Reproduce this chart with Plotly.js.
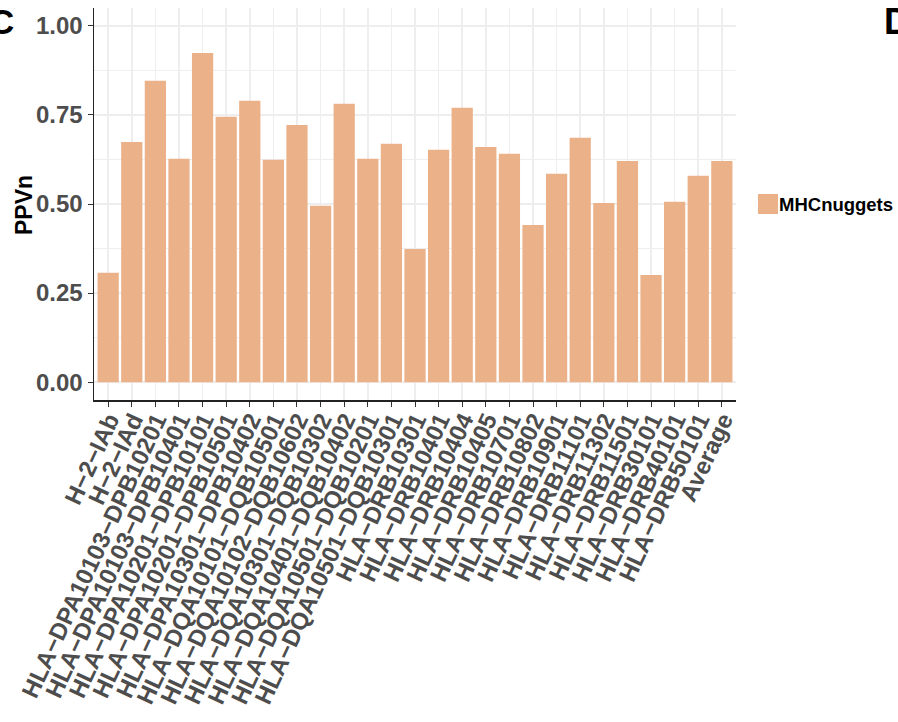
<!DOCTYPE html>
<html>
<head>
<meta charset="utf-8">
<script src="https://cdn.plot.ly/plotly-3.0.1.min.js"></script>
<style>
  html, body { margin: 0; padding: 0; background: #ffffff; }
  #chart { width: 898px; height: 722px; }
</style>
</head>
<body>
<div id="chart"></div>
<script>
// Alleles (x categories) and PPVn values for MHCnuggets
const alleles = [
  "H\u22122\u2212IAb", "H\u22122\u2212IAd",
  "HLA\u2212DPA10103\u2212DPB10201", "HLA\u2212DPA10103\u2212DPB10401",
  "HLA\u2212DPA10201\u2212DPB10101", "HLA\u2212DPA10201\u2212DPB10501",
  "HLA\u2212DPA10301\u2212DPB10402", "HLA\u2212DQA10101\u2212DQB10501",
  "HLA\u2212DQA10102\u2212DQB10602", "HLA\u2212DQA10301\u2212DQB10302",
  "HLA\u2212DQA10401\u2212DQB10402", "HLA\u2212DQA10501\u2212DQB10201",
  "HLA\u2212DQA10501\u2212DQB10301", "HLA\u2212DRB10301",
  "HLA\u2212DRB10401", "HLA\u2212DRB10404", "HLA\u2212DRB10405",
  "HLA\u2212DRB10701", "HLA\u2212DRB10802", "HLA\u2212DRB10901",
  "HLA\u2212DRB11101", "HLA\u2212DRB11302", "HLA\u2212DRB11501",
  "HLA\u2212DRB30101", "HLA\u2212DRB40101", "HLA\u2212DRB50101",
  "Average"
];
const ppvn = [
  0.307, 0.674, 0.846, 0.627, 0.924, 0.745, 0.790, 0.624, 0.722,
  0.495, 0.781, 0.627, 0.669, 0.374, 0.652, 0.770, 0.660, 0.641,
  0.441, 0.585, 0.686, 0.503, 0.621, 0.301, 0.506, 0.579, 0.621
];
const seriesName = "MHCnuggets";
const yLabel = "PPVn";
const yTicks = [0, 0.25, 0.5, 0.75, 1.0];
const yTickText = ["0.00", "0.25", "0.50", "0.75", "1.00"];

const barColor = "#EBB28A";
const gridColor = "#EEEEEE";
const tickFont = { family: "Liberation Sans, Arial, sans-serif", size: 24, color: "#4D4D4D", weight: "bold" };

const n = alleles.length;
const xIdx = alleles.map((_, i) => i + 1);

// plot-area geometry in pixels, used to place the key and panel letters
const L = 94, T = 8, W = 642, H = 392;
const px = x => (x - L) / W;
const py = y => (T + H - y) / H;

// minor horizontal grid between the major ticks
const minorShapes = [0.125, 0.375, 0.625, 0.875].map(v => ({
  type: "line", xref: "paper", yref: "y", x0: 0, x1: 1, y0: v, y1: v,
  line: { color: gridColor, width: 1 }, layer: "below"
}));

const trace = {
  type: "bar",
  x: xIdx,
  y: ppvn,
  name: seriesName,
  marker: { color: barColor, line: { width: 0 } },
  width: 0.9,
  showlegend: false,
  hoverinfo: "y"
};

const layout = {
  width: 898, height: 722,
  margin: { l: L, r: 898 - L - W, t: T, b: 722 - T - H, pad: 0 },
  paper_bgcolor: "#ffffff",
  plot_bgcolor: "#ffffff",
  font: { family: "Liberation Sans, Arial, sans-serif" },
  xaxis: {
    range: [0.4, n + 0.6],
    tickmode: "array",
    tickvals: xIdx,
    ticktext: alleles,
    tickangle: -65,
    tickfont: tickFont,
    ticklabeloverflow: "allow",
    ticklabelshift: 1,
    ticklabelstandoff: -10,
    ticks: "outside", ticklen: 5, tickwidth: 1, tickcolor: "#333333",
    showline: true, linecolor: "#222222", linewidth: 1.5,
    showgrid: true, gridcolor: gridColor, gridwidth: 1.5,
    zeroline: false, fixedrange: true
  },
  yaxis: {
    range: [-0.05, 1.05],
    tickmode: "array",
    tickvals: yTicks,
    ticktext: yTickText,
    tickfont: tickFont,
    ticks: "outside", ticklen: 5, tickwidth: 1, tickcolor: "#333333",
    showline: true, linecolor: "#222222", linewidth: 1.5,
    showgrid: true, gridcolor: gridColor, gridwidth: 1.5,
    zeroline: false, fixedrange: true
  },
  shapes: minorShapes.concat([
    // legend key
    { type: "rect", xref: "paper", yref: "paper",
      x0: px(758), x1: px(778), y0: py(214), y1: py(194),
      fillcolor: barColor, line: { width: 0 } }
  ]),
  annotations: [
    { text: yLabel, xref: "paper", yref: "paper", textangle: -90,
      x: px(24), y: py(205), xanchor: "center", yanchor: "middle",
      showarrow: false, font: { size: 23, color: "#000000", weight: "bold" } },
    { text: seriesName, xref: "paper", yref: "paper",
      x: px(777), y: py(204), xanchor: "left", yanchor: "middle",
      showarrow: false, font: { size: 18.5, color: "#000000", weight: "bold" } },
    { text: "C", xref: "paper", yref: "paper",
      x: px(16), y: py(22), xanchor: "right", yanchor: "middle",
      showarrow: false, font: { size: 35, color: "#000000", weight: "bold" } },
    { text: "D", xref: "paper", yref: "paper",
      x: px(882), y: py(22), xanchor: "left", yanchor: "middle",
      showarrow: false, font: { size: 36, color: "#000000", weight: "bold" } }
  ],
  bargap: 0.1,
  showlegend: false
};

Plotly.newPlot("chart", [trace], layout, { displayModeBar: false, staticPlot: true });
</script>
</body>
</html>
